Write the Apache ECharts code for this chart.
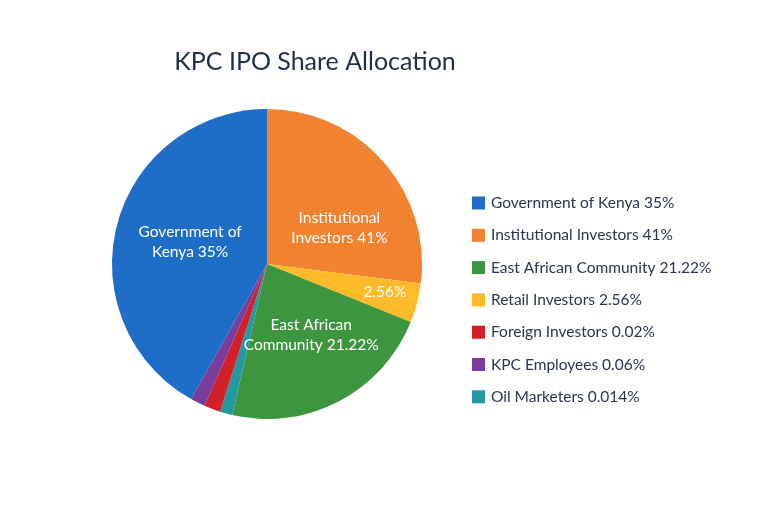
<!DOCTYPE html>
<html>
<head>
<meta charset="utf-8">
<script src="https://cdn.jsdelivr.net/npm/echarts@6/dist/echarts.min.js"></script>
<style>html,body{margin:0;padding:0;background:#fff;}#c{width:768px;height:512px;}</style>
</head>
<body>
<div id="c"></div>
<script>
// Categories in pie order (clockwise from 12 o'clock)
const categories = ['Institutional Investors', 'Retail Investors', 'East African Community', 'Oil Marketers', 'Foreign Investors', 'KPC Employees', 'Government of Kenya'];
// Slice sizes as drawn in the picture (share of the circle, %)
const sliceValues = [27.0, 4.1, 22.5, 1.3, 1.7, 1.55, 41.85];
// Percent texts as printed on the chart
const pctLabels = ['41%', '2.56%', '21.22%', '0.014%', '0.02%', '0.06%', '35%'];
// In-slice label texts
const sliceLabels = ['Institutional\nInvestors 41%', '2.56%', 'East African\nCommunity 21.22%', '', '', '', 'Government of\nKenya 35%'];
// Legend order
const legendOrder = ['Government of Kenya', 'Institutional Investors', 'East African Community', 'Retail Investors', 'Foreign Investors', 'KPC Employees', 'Oil Marketers'];
const colors = ['#f18330', '#fdbb2a', '#3e953f', '#2299a0', '#cf2127', '#7a3d9d', '#1e6ec8'];

const chart = echarts.init(document.getElementById('c'), null, {renderer: 'canvas'});
const font = 'Lato, "Open Sans", sans-serif';
chart.setOption({
  backgroundColor: '#ffffff',
  animation: false,
  title: {
    text: 'KPC IPO Share Allocation',
    left: 310, top: 44, textAlign: 'center',
    textStyle: {fontFamily: font, fontSize: 25, fontWeight: 'normal', color: '#1f2d4a'}
  },
  legend: {
    orient: 'vertical',
    left: 467, top: 190,
    itemWidth: 13, itemHeight: 13, itemGap: 16.3,
    icon: 'rect',
    data: legendOrder,
    formatter: function (name) {
      return name + ' ' + pctLabels[categories.indexOf(name)];
    },
    textStyle: {fontFamily: font, fontSize: 15.5, color: '#2a3550', padding: [0, 0, 0, 1]}
  },
  series: [{
    type: 'pie',
    center: [267, 264],
    radius: 155,
    startAngle: 90,
    clockwise: true,
    avoidLabelOverlap: false,
    label: {
      show: true, position: 'inside',
      fontFamily: font, fontSize: 15.5, color: '#ffffff', lineHeight: 20,
      formatter: function (p) { return sliceLabels[p.dataIndex]; }
    },
    labelLine: {show: false},
    labelLayout: function (p) {
      if (p.dataIndex === 0) return {dx: 12, dy: 17};
      if (p.dataIndex === 1) return {dx: 40, dy: 8};
      if (p.dataIndex === 2) return {dx: 7, dy: 0};
      if (p.dataIndex === 6) return {dx: 1, dy: -2};
      return {};
    },
    emphasis: {disabled: true},
    itemStyle: {borderWidth: 0},
    data: categories.map(function (c, i) {
      return {name: c, value: sliceValues[i], itemStyle: {color: colors[i]}};
    })
  }]
});
</script>
</body>
</html>
